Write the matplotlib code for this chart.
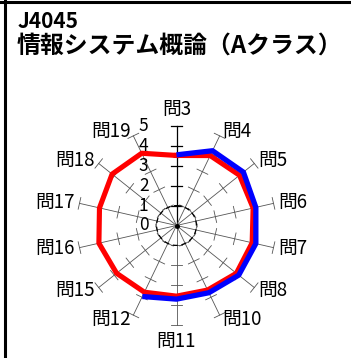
import numpy as np
import matplotlib
matplotlib.use("Agg")
import matplotlib.pyplot as plt
from matplotlib.lines import Line2D
from matplotlib.transforms import offset_copy

plt.rcParams['font.family'] = ['Noto Sans CJK JP', 'DejaVu Sans']

# data
title_code = 'J4045'
title_name = '情報システム概論（Aクラス）'
questions = ['問3', '問4', '問5', '問6', '問7', '問8', '問10',
             '問11', '問12', '問15', '問16', '問17', '問18', '問19']
red_vals = [3.52, 3.9, 4.05, 3.95, 3.9, 3.85, 3.6,
            3.55, 3.72, 3.85, 4.0, 3.97, 4.14, 4.03]
blue_vals = [3.55, 4.17, 4.3, 4.09, 4.09, 4.0, 3.75, 3.7, 3.96]  # 問3 .. 問12 only
scale_ticks = [0, 1, 2, 3, 4, 5]

W, H = 351, 358
fig = plt.figure(figsize=(W / 100, H / 100), dpi=100)

# frame lines (top and left)
fig.add_artist(Line2D([0, 1], [1 - 1.5 / H, 1 - 1.5 / H], color='black', lw=2.2,
                      transform=fig.transFigure))
fig.add_artist(Line2D([4.5 / W, 4.5 / W], [0, 1], color='black', lw=2.2,
                      transform=fig.transFigure))

fig.text(18 / W, 1 - 28 / H, title_code, fontsize=15, fontweight='bold',
         va='baseline', ha='left')
fig.text(17 / W, 1 - 53 / H, title_name, fontsize=17.2, fontweight='bold',
         va='baseline', ha='left')

# radar axes: center at (176.5, 225.5) px, r=5 -> 99.5 px
cx, cy, R = 176.5, 225.5, 99.5
ax = fig.add_axes([(cx - R) / W, (H - cy - R) / H, 2 * R / W, 2 * R / H],
                  projection='polar')
ax.set_theta_zero_location('N')
ax.set_theta_direction(-1)
ax.set_ylim(0, 5)
ax.set_axis_off()

n = len(questions)
theta = np.arange(n) * 2 * np.pi / n
rmax = scale_ticks[-1]

# spokes with cross ticks
d = 0.3
for i, t in enumerate(theta):
    col = 'black' if i == 0 else '#555555'
    lw = 0.9 if i == 0 else 0.6
    ax.plot([t, t], [0, rmax], color=col, lw=lw, clip_on=False, zorder=1)
    for r in scale_ticks[1:]:
        a = np.arctan(d / r)
        rr = np.hypot(r, d)
        ax.plot([t - a, t + a], [rr, rr], color=col, lw=lw, clip_on=False, zorder=1)

# dashed circle at 1
tc = np.linspace(0, 2 * np.pi, 200)
ax.plot(tc, np.full_like(tc, 1.0), color='black', lw=0.9, ls=(0, (4, 3)), zorder=1)
ax.plot([0], [0], 'o', color='black', ms=2.5, zorder=2)

# series
ax.plot(np.append(theta, theta[0]), red_vals + red_vals[:1], color='#ff0000',
        lw=3.7, solid_joinstyle='round', clip_on=False, zorder=3)
ax.plot(theta[:len(blue_vals)], blue_vals, color='#0000ff', lw=3.8,
        solid_capstyle='butt', solid_joinstyle='round', clip_on=False, zorder=4)

# scale labels left of the top spoke
lab_tr = offset_copy(ax.transData, fig=fig, x=-0.28, y=0, units='inches')
for v in scale_ticks:
    ax.text(0, v, str(v), transform=lab_tr, ha='right', va='center',
            fontsize=12.5, zorder=5)

# category labels
rl = 5.25
for t, q in zip(theta, questions):
    s, c = np.sin(t), np.cos(t)
    ha = 'left' if s > 0.2 else ('right' if s < -0.2 else 'center')
    if c > 0.95:
        va, r = 'bottom', 5.3
    elif c < -0.95:
        va, r = 'top', 5.3
    else:
        va, r = 'center', rl
    ax.text(t, r, q, ha=ha, va=va, fontsize=13.5)

fig.savefig('out.png', dpi=100)
